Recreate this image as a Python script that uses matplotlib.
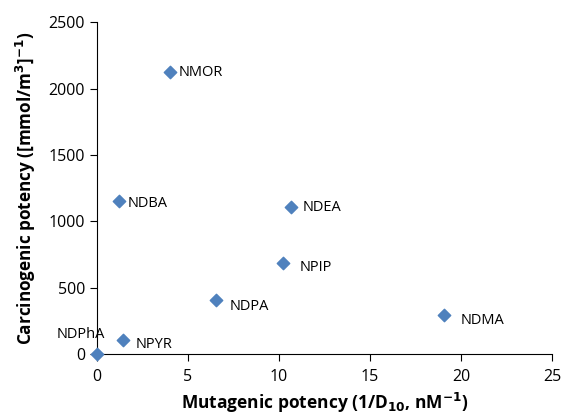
import matplotlib.pyplot as plt

plt.rcParams['font.family'] = ['Open Sans', 'DejaVu Sans']

names = ['NDPhA', 'NPYR', 'NDPA', 'NPIP', 'NDEA', 'NDMA', 'NDBA', 'NMOR']
mutagenic = [0.0, 1.43, 6.54, 10.2, 10.66, 19.07, 1.2, 4.0]
carcinogenic = [0, 105, 407, 685, 1107, 294, 1152, 2123]

# label offsets in points (dx, dy)
offsets = {
    'NDPhA': (-11.5, 14), 'NPYR': (9, -3), 'NDPA': (10, -4.5), 'NPIP': (12, -3),
    'NDEA': (8, 0), 'NDMA': (12, -4), 'NDBA': (6, -2), 'NMOR': (6, 0),
}

fig = plt.figure(figsize=(5.61, 4.19), dpi=100)
ax = fig.add_axes([0.173, 0.155, 0.811, 0.792])

ax.scatter(mutagenic, carcinogenic, marker='D', s=40, color='#4F81BD',
           zorder=3, clip_on=False)

for n, x, y in zip(names, mutagenic, carcinogenic):
    dx, dy = offsets[n]
    ha = 'center' if n == 'NDPhA' else 'left'
    ax.annotate(n, (x, y), xytext=(dx, dy), textcoords='offset points',
                ha=ha, va='center', fontsize=10.5)

ax.set_xlim(0, 25)
ax.set_ylim(0, 2500)
ax.set_xticks([0, 5, 10, 15, 20, 25])
ax.set_yticks([0, 500, 1000, 1500, 2000, 2500])
ax.tick_params(direction='out', length=5, labelsize=11.5)
ax.tick_params(axis='x', pad=6)
ax.spines['top'].set_visible(False)
ax.spines['right'].set_visible(False)

ax.set_xlabel(r'Mutagenic potency (1/D$_{\mathbf{10}}$, nM$^{\mathbf{-1}}$)',
              fontsize=12.5, fontweight='bold', labelpad=4)
ax.set_ylabel(r'Carcinogenic potency ([mmol/m$^{\mathbf{3}}$]$^{\mathbf{-1}}$)',
              fontsize=12.3, fontweight='bold', labelpad=8)

fig.savefig('out.png', dpi=100)
